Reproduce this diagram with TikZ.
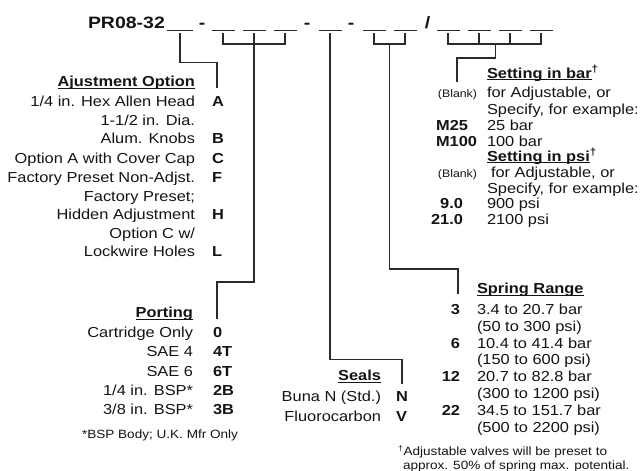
\documentclass[tikz,border=0pt]{standalone}
\usepackage{fontspec}
\setmainfont{Liberation Sans}
\usepackage{graphicx}
\definecolor{ink}{HTML}{141414}
\definecolor{wirec}{HTML}{2A2A2A}
\newcommand{\hs}[1]{\scalebox{1.13}[1]{#1}}
\newcommand{\hst}[1]{\scalebox{1.18}[1]{#1}}
\newcommand{\ulx}[1]{\sbox0{#1}\rlap{\rule[-2.4pt]{\wd0}{1.2pt}}\usebox0}
\tikzset{
  txt/.style={inner sep=0pt, outer sep=0pt, text=ink, font=\fontsize{14.5}{17}\selectfont},
  labR/.style={txt, anchor=base east},
  valL/.style={txt, anchor=base west},
  codeL/.style={txt, anchor=base west, font=\fontsize{14.5}{17}\selectfont\bfseries},
  codeR/.style={txt, anchor=base east, font=\fontsize{14.5}{17}\selectfont\bfseries},
  hdR/.style={txt, anchor=base east, font=\fontsize{14.5}{17}\selectfont\bfseries},
  hdL/.style={txt, anchor=base west, font=\fontsize{14.5}{17}\selectfont\bfseries},
  hdbig/.style={txt, font=\fontsize{16.5}{19}\selectfont\bfseries},
  smalltxt/.style={txt, font=\fontsize{12}{14}\selectfont},
  tinytxt/.style={txt, anchor=base east, font=\fontsize{10.9}{13}\selectfont},
  wire/.style={draw=wirec, line width=1.3pt},
  blankline/.style={draw=wirec, line width=1.3pt},
}
\begin{document}
\begin{tikzpicture}[x=1pt,y=-1pt]
\useasboundingbox (0,0) rectangle (643,471);

% ---- model code line
\node[hdbig, anchor=base west] (title) at (88,28.3) {\hst{PR08-32}};
\node[hdbig, anchor=base] (d1) at (202,28.3) {\hst{-}};
\node[hdbig, anchor=base] (d2) at (307,28.3) {\hst{-}};
\node[hdbig, anchor=base] (d3) at (351,28.3) {\hst{-}};
\node[hdbig, anchor=base] (sl) at (427.5,28.3) {\hst{/}};

\coordinate (b1) at (179.5,30.5);
\draw[blankline] ([xshift=-13pt]b1) -- ([xshift=13pt]b1);
\foreach \n/\c in {2/223,3/254,4/285,5/330,6/374,7/405,8/448,9/479,10/510,11/541}{
  \coordinate (b\n) at (\c,30.5);
  \draw[blankline] ([xshift=-11.5pt]b\n) -- ([xshift=11.5pt]b\n);
}

% ---- connector end points
\coordinate (atop) at (217,88);
\coordinate (ptop) at (217,319);
\coordinate (stop) at (402,384);
\coordinate (rtop) at (458,294);
\coordinate (settop) at (457,82);
\coordinate (j2) at (254,44);
\coordinate (j4) at (389.5,44);
\coordinate (j5) at (495.5,44);

% adjustment
\draw[wire] ([xshift=0.5pt,yshift=-2.5pt]b1) -- ++(0,29.5) -| (atop);
% porting
\draw[wire] ([yshift=-2.5pt]b2) |- (j2) -| ([yshift=-2.5pt]b4);
\draw[wire] ([yshift=-2.5pt]b3) -- (j2);
\draw[wire] (j2) -- ++(0,238) -| (ptop);
% seals
\draw[wire] ([yshift=-2.5pt]b5) -- ++(0,326.5) -| (stop);
% spring
\draw[wire] ([yshift=-2.5pt]b6) |- (j4) -| ([yshift=-2.5pt]b7);
\draw[wire] (j4) -- ++(0,225) -| (rtop);
% setting
\draw[wire] ([yshift=-2.5pt]b8) |- (j5) -| ([yshift=-2.5pt]b11);
\draw[wire] ([yshift=-2.5pt]b9) -- (b9 |- j5);
\draw[wire] ([yshift=-2.5pt]b10) -- (b10 |- j5);
\draw[wire] (j5) -- ++(0,14) -| (settop);

% ---- Adjustment option
\node[hdR] (adjh) at (195,86.5) {\hs{\ulx{Ajustment Option}}};
\node[labR] (a1) at (195,106) {\hs{1/4 in. Hex Allen Head}};
\node[codeL] (cA) at (212,106) {\hs{A}};
\node[labR] (a2) at (195,125.5) {\hs{1-1/2 in. Dia.}};
\node[labR] (a3) at (195,143) {\hs{Alum. Knobs}};
\node[codeL] (cB) at (212,143) {\hs{B}};
\node[labR] (a4) at (195,163) {\hs{Option A with Cover Cap}};
\node[codeL] (cC) at (212,163) {\hs{C}};
\node[labR] (a5) at (195,182) {\hs{Factory Preset Non-Adjst.}};
\node[codeL] (cF) at (212,182) {\hs{F}};
\node[labR] (a6) at (195,201) {\hs{Factory Preset;}};
\node[labR] (a7) at (195,219) {\hs{Hidden Adjustment}};
\node[codeL] (cH) at (212,219) {\hs{H}};
\node[labR] (a8) at (195,238) {\hs{Option C w/}};
\node[labR] (a9) at (195,256) {\hs{Lockwire Holes}};
\node[codeL] (cL) at (212,256) {\hs{L}};

% ---- Porting
\node[hdR] (porth) at (193,317.5) {\hs{\ulx{Porting}}};
\node[labR] (p1) at (193,337) {\hs{Cartridge Only}};
\node[codeL] (c0) at (213,337) {\hs{0}};
\node[labR] (p2) at (193,356.5) {\hs{SAE 4}};
\node[codeL] (c4T) at (213,356.5) {\hs{4T}};
\node[labR] (p3) at (193,376) {\hs{SAE 6}};
\node[codeL] (c6T) at (213,376) {\hs{6T}};
\node[labR] (p4) at (193,395) {\hs{1/4 in. BSP*}};
\node[codeL] (c2B) at (213,395) {\hs{2B}};
\node[labR] (p5) at (193,414) {\hs{3/8 in. BSP*}};
\node[codeL] (c3B) at (213,414) {\hs{3B}};
\node[smalltxt, anchor=base east] (pnote) at (238,438) {\hs{*BSP Body; U.K. Mfr Only}};

% ---- Seals
\node[hdR] (sealh) at (381,380.5) {\hs{\ulx{Seals}}};
\node[labR] (s1) at (381,401) {\hs{Buna N (Std.)}};
\node[codeL] (cN) at (396,401) {\hs{N}};
\node[labR] (s2) at (381,421) {\hs{Fluorocarbon}};
\node[codeL] (cV) at (396,421) {\hs{V}};

% ---- Setting
\node[hdL] (setbar) at (487,78) {\hs{\ulx{Setting in bar}\textsuperscript{\textdagger}}};
\node[tinytxt] (bl1) at (477,97.5) {\hs{(Blank)}};
\node[valL] (t1) at (487,97.5) {\hs{for Adjustable, or}};
\node[valL] (t2) at (487,114) {\hs{Specify, for example:}};
\node[codeR] (cM25) at (468,130.5) {\hs{M25}};
\node[valL] (t3) at (487,130.5) {\hs{25 bar}};
\node[codeR] (cM100) at (477,146) {\hs{M100}};
\node[valL] (t4) at (487,146) {\hs{100 bar}};
\node[hdL] (setpsi) at (487,161) {\hs{\ulx{Setting in psi}\textsuperscript{\textdagger}}};
\node[tinytxt] (bl2) at (477,177.5) {\hs{(Blank)}};
\node[valL] (t5) at (491,177.5) {\hs{for Adjustable, or}};
\node[valL] (t6) at (487,193) {\hs{Specify, for example:}};
\node[codeR] (c90) at (463,208.5) {\hs{9.0}};
\node[valL] (t7) at (487,208.5) {\hs{900 psi}};
\node[codeR] (c210) at (463,224) {\hs{21.0}};
\node[valL] (t8) at (487,224) {\hs{2100 psi}};

% ---- Spring range
\node[hdL] (springh) at (477,293.5) {\hs{\ulx{Spring Range}}};
\node[codeR] (r3) at (460,314.5) {\hs{3}};
\node[valL] (r3a) at (477,314.5) {\hs{3.4 to 20.7 bar}};
\node[valL] (r3b) at (477,331) {\hs{(50 to 300 psi)}};
\node[codeR] (r6) at (460,348) {\hs{6}};
\node[valL] (r6a) at (477,348) {\hs{10.4 to 41.4 bar}};
\node[valL] (r6b) at (477,364) {\hs{(150 to 600 psi)}};
\node[codeR] (r12) at (460,381.5) {\hs{12}};
\node[valL] (r12a) at (477,381.5) {\hs{20.7 to 82.8 bar}};
\node[valL] (r12b) at (477,398) {\hs{(300 to 1200 psi)}};
\node[codeR] (r22) at (460,415.5) {\hs{22}};
\node[valL] (r22a) at (477,415.5) {\hs{34.5 to 151.7 bar}};
\node[valL] (r22b) at (477,432) {\hs{(500 to 2200 psi)}};
\node[smalltxt, anchor=base west] (fn1) at (398,455.5) {\hs{\textsuperscript{\textdagger}Adjustable valves will be preset to}};
\node[smalltxt, anchor=base west] (fn2) at (403,469) {\hs{approx. 50\% of spring max. potential.}};
\end{tikzpicture}
\end{document}
